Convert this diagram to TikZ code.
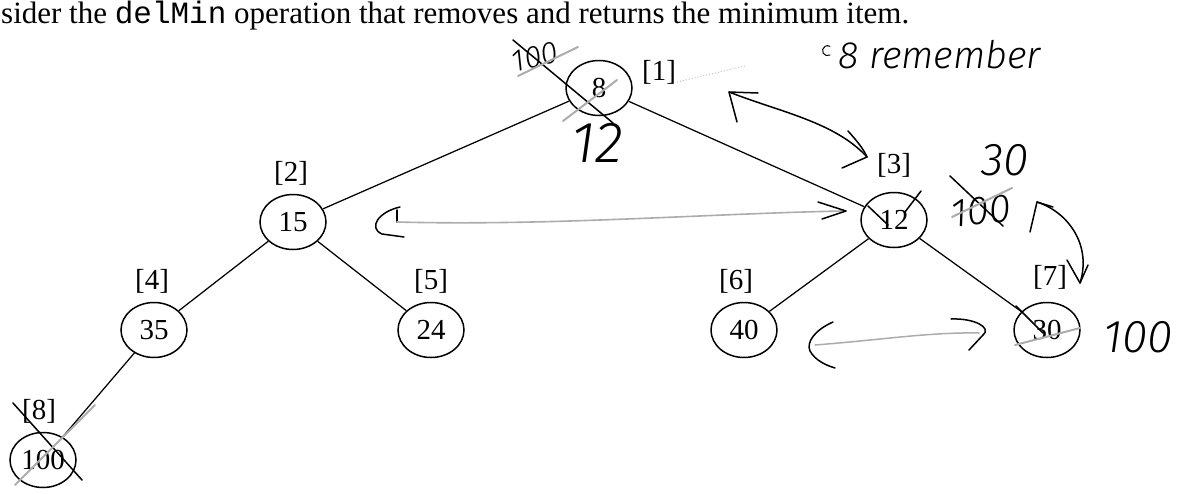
\documentclass[tikz,border=0pt]{standalone}
\usepackage{fontspec}
\setmainfont{Liberation Serif}
\setmonofont{Liberation Mono}
\newfontfamily\hand{Fira Sans Light Italic}
\usetikzlibrary{shapes.geometric}

\begin{document}
\begin{tikzpicture}[x=1pt,y=-1pt,
  heapnode/.style={ellipse, draw, line width=1.5pt, minimum width=66pt,
    minimum height=55pt, inner sep=0pt, font=\fontsize{29}{29}\selectfont},
  idx/.style={font=\fontsize{29}{29}\selectfont, inner sep=0pt},
  treeedge/.style={line width=1.25pt},
  pen/.style={line width=1.5pt, line cap=round, line join=round},
  faint/.style={line width=2pt, gray!65, line cap=round},
  script/.style={font=\hand\fontsize{#1}{#1}\selectfont, inner sep=0pt},
]
\useasboundingbox (0,0) rectangle (1178,493);
\clip (0,0) rectangle (1178,493);

% heading line
\node[anchor=base west, inner sep=0pt, font=\fontsize{31}{31}\selectfont] (head) at (1,23)
  {sider the \texttt{delMin} operation that removes and returns the minimum item.};

% heap nodes
\node[heapnode] (n1) at (599,88)  {8};
\node[heapnode] (n2) at (293,222) {15};
\node[heapnode] (n3) at (894,220) {12};
\node[heapnode] (n4) at (154,330) {35};
\node[heapnode] (n5) at (431,330) {24};
\node[heapnode] (n6) at (744,330) {40};
\node[heapnode] (n7) at (1047,330) {30};
\node[heapnode] (n8) at (43,460)  {100};

% array indices
\node[idx] (l1) at (659,72)  {[1]};
\node[idx] (l2) at (291,173) {[2]};
\node[idx] (l3) at (894,165) {[3]};
\node[idx] (l4) at (152,281) {[4]};
\node[idx] (l5) at (431,281) {[5]};
\node[idx] (l6) at (736,281) {[6]};
\node[idx] (l7) at (1050,277) {[7]};
\node[idx] (l8) at (39,411)  {[8]};

% tree edges
\draw[treeedge] (n1) -- (n2);
\draw[treeedge] (n1) -- (n3);
\draw[treeedge] (n2) -- (n4);
\draw[treeedge] (n2) -- (n5);
\draw[treeedge] (n4) -- (n8);
\draw[treeedge] (n3) -- (n6);
\draw[treeedge] (n3) -- (n7);

% --- pencil notes ---
% root: 100 moved up, 8 removed, 12 moved in
\node[script=31, rotate=14] (w100a) at (535,57) {100};
\draw[pen] (513,40) -- (613,123);
\draw[faint] (518,76) -- (578,47);
\draw[faint] (563,121) -- (617,80);
\node[script=58] (w12) at (597,143) {12};
\draw[gray!50, line width=1pt, dotted] (677,82) -- (745,66);

% remember the minimum
\draw[pen, line width=1pt] (830,55) arc (60:300:5);
\node[script=38, anchor=base west] (wrem) at (838,68) {8 remember};

% swap arrow between [1] and [3]
\coordinate (a1s) at (729,92);
\coordinate (a1e) at (867,157);
\draw[pen] (a1s) .. controls (780,112) and (835,122) .. (a1e);
\draw[pen] (737,122) -- (a1s) -- (758,93);
\draw[pen] (848,131) .. controls (858,142) and (864,150) .. (a1e) -- (842,168);

% comparison arrow between 15 and 12
\coordinate (a2s) at (397,222);
\coordinate (a2e) at (842,211);
\draw[pen] (400,207) .. controls (378,212) and (368,228) .. (382,234) -- (404,237);
\draw[pen] (397,210) -- (a2s);
\draw[faint, line width=1.6pt] (a2s) .. controls (550,226) and (700,214) .. (a2e);
\draw[pen] (818,202) -- (846,211) -- (822,219);

% node [3] rewritten
\draw[pen] (868,206) -- (888,225);
\draw[pen] (921,191) -- (905,212);
\node[script=46, anchor=base] (w30) at (1005,175) {30};
\node[script=40, anchor=base, rotate=6] (w100b) at (982,224) {100};
\draw[pen] (950,176) -- (1003,226);
\draw[faint] (952,217) -- (1012,188);

% swap arrow between [3] and [7]
\coordinate (a3s) at (1037,202);
\coordinate (a3e) at (1080,283);
\draw[pen] (a3s) .. controls (1068,212) and (1092,245) .. (a3e);
\draw[pen] (1030,232) -- (a3s) -- (1053,207);
\draw[pen] (1067,260) -- (a3e) -- (1088,265);

% node [7] rewritten
\draw[pen] (1016,306) -- (1043,333);
\draw[faint] (1015,345) -- (1080,328);
\node[script=46, anchor=west] (w100c) at (1103,337) {100};

% comparison arrow between 40 and 30
\coordinate (a4s) at (815,345);
\coordinate (a4e) at (979,333);
\draw[pen] (833,322) .. controls (815,330) and (806,342) .. (810,351)
  .. controls (815,360) and (825,365) .. (835,368);
\draw[faint, line width=1.5pt] (a4s) .. controls (880,340) and (930,332) .. (a4e);
\draw[pen] (951,319) .. controls (975,318) and (992,328) .. (983,335) -- (969,350);

% last node removed
\draw[pen] (13,403) -- (82,480);
\draw[faint] (95,405) -- (15,485);
\end{tikzpicture}
\end{document}
